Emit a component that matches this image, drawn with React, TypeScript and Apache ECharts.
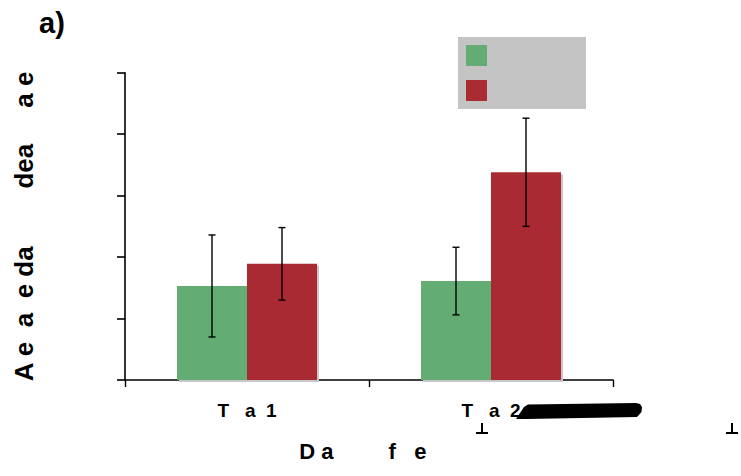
import React, { useEffect, useRef } from "react";
import * as echarts from "echarts";

const categories = ["T   a  1", "T   a  2"];
const seriesNames = ["Series A", "Series B"];
const greenValues = [1.53, 1.61];
const greenErrors = [0.83, 0.55];
const redValues = [1.89, 3.38];
const redErrors = [0.59, 0.88];
const yMin = 0;
const yMax = 5;
const yInterval = 1;
const titleText = "a)";
const yName = "A e  a  e da        dea     a e";
const xName = "D a         f   e  ";

const FONT = "'Liberation Sans', Arial, sans-serif";
const GREEN = "#64ac73";
const RED = "#a92c32";

function errorSeries(values: number[], errors: number[], offset: number) {
  return {
    type: "custom",
    z: 10,
    silent: true,
    renderItem: (params: any, api: any) => {
      const i = api.value(0);
      const v = api.value(1);
      const e = api.value(2);
      const top = api.coord([i, v + e]);
      const bot = api.coord([i, v - e]);
      const x = top[0] + offset;
      const cap = 3.5;
      const style = { stroke: "#000", lineWidth: 1.4 };
      return {
        type: "group",
        children: [
          { type: "line", shape: { x1: x, y1: top[1], x2: x, y2: bot[1] }, style },
          { type: "line", shape: { x1: x - cap, y1: top[1], x2: x + cap, y2: top[1] }, style },
          { type: "line", shape: { x1: x - cap, y1: bot[1], x2: x + cap, y2: bot[1] }, style },
        ],
      };
    },
    data: values.map((v, i) => [i, v, errors[i]]),
  };
}

export default function App() {
  const ref = useRef<HTMLDivElement>(null);
  useEffect(() => {
    if (!ref.current) return;
    const chart = echarts.init(ref.current, null, { renderer: "svg" });
    const barShadow = {
      shadowColor: "#c8c8cc",
      shadowOffsetX: 2,
      shadowOffsetY: 2,
      shadowBlur: 0,
    };
    chart.setOption({
      animation: false,
      backgroundColor: "#ffffff",
      textStyle: { fontFamily: FONT },
      title: {
        text: titleText,
        left: 34,
        top: 3,
        textStyle: { fontFamily: FONT, fontSize: 29, fontWeight: "bold", color: "#000" },
      },
      legend: {
        orient: "vertical",
        left: 458,
        top: 37,
        data: seriesNames,
        icon: "rect",
        itemWidth: 21,
        itemHeight: 21,
        itemGap: 14,
        padding: [8, 99, 8, 8],
        backgroundColor: "#c4c4c4",
        borderRadius: 0,
        formatter: () => "",
        itemStyle: { shadowBlur: 0, shadowColor: "transparent", shadowOffsetX: 0, shadowOffsetY: 0 },
        selectedMode: false,
      },
      grid: { left: 125, right: 128, top: 72.7, bottom: 96, containLabel: false },
      xAxis: {
        type: "category",
        data: categories,
        boundaryGap: true,
        name: xName,
        nameLocation: "middle",
        nameGap: 60,
        nameTextStyle: { fontFamily: FONT, fontSize: 22, fontWeight: "bold", color: "#000" },
        axisLine: { show: true, lineStyle: { color: "#000", width: 1.6 } },
        axisTick: { show: true, length: 7, lineStyle: { color: "#000", width: 1.4 } },
        axisLabel: {
          show: true,
          margin: 21,
          fontFamily: FONT,
          fontSize: 19,
          fontWeight: "bold",
          color: "#000",
        },
        splitLine: { show: false },
      },
      yAxis: {
        type: "value",
        min: yMin,
        max: yMax,
        interval: yInterval,
        name: yName,
        nameLocation: "middle",
        nameRotate: 90,
        nameGap: 88,
        nameTextStyle: { fontFamily: FONT, fontSize: 26, fontWeight: "bold", color: "#000" },
        axisLine: { show: true, lineStyle: { color: "#000", width: 1.6 } },
        axisTick: { show: true, length: 8, lineStyle: { color: "#000", width: 1.6 } },
        axisLabel: { show: false },
        splitLine: { show: false },
      },
      series: [
        {
          name: seriesNames[0],
          type: "bar",
          data: greenValues,
          barWidth: 70,
          barGap: "0%",
          itemStyle: { color: GREEN, ...barShadow },
          z: 2,
        },
        {
          name: seriesNames[1],
          type: "bar",
          data: redValues,
          barWidth: 70,
          barGap: "0%",
          itemStyle: { color: RED, ...barShadow },
          z: 3,
        },
        errorSeries(greenValues, greenErrors, -35),
        errorSeries(redValues, redErrors, 35),
      ],
      graphic: [
        {
          type: "polygon",
          z: 100,
          shape: {
            points: [
              [516, 419],
              [524, 407],
              [528, 404.5],
              [636, 403],
              [640, 404],
              [642, 407],
              [641.5, 412],
              [637, 417],
              [527, 419],
            ],
          },
          style: { fill: "#000" },
        },
        { type: "line", z: 100, shape: { x1: 482, y1: 423, x2: 482, y2: 433 }, style: { stroke: "#000", lineWidth: 2 } },
        { type: "line", z: 100, shape: { x1: 476, y1: 433, x2: 488, y2: 433 }, style: { stroke: "#000", lineWidth: 2 } },
        { type: "line", z: 100, shape: { x1: 732, y1: 423, x2: 732, y2: 433 }, style: { stroke: "#000", lineWidth: 2 } },
        { type: "line", z: 100, shape: { x1: 726, y1: 433, x2: 738, y2: 433 }, style: { stroke: "#000", lineWidth: 2 } },
      ],
    });
    return () => chart.dispose();
  }, []);
  return (
    <div
      ref={ref}
      style={{ position: "fixed", left: 0, top: 0, width: 741, height: 476 }}
    />
  );
}
